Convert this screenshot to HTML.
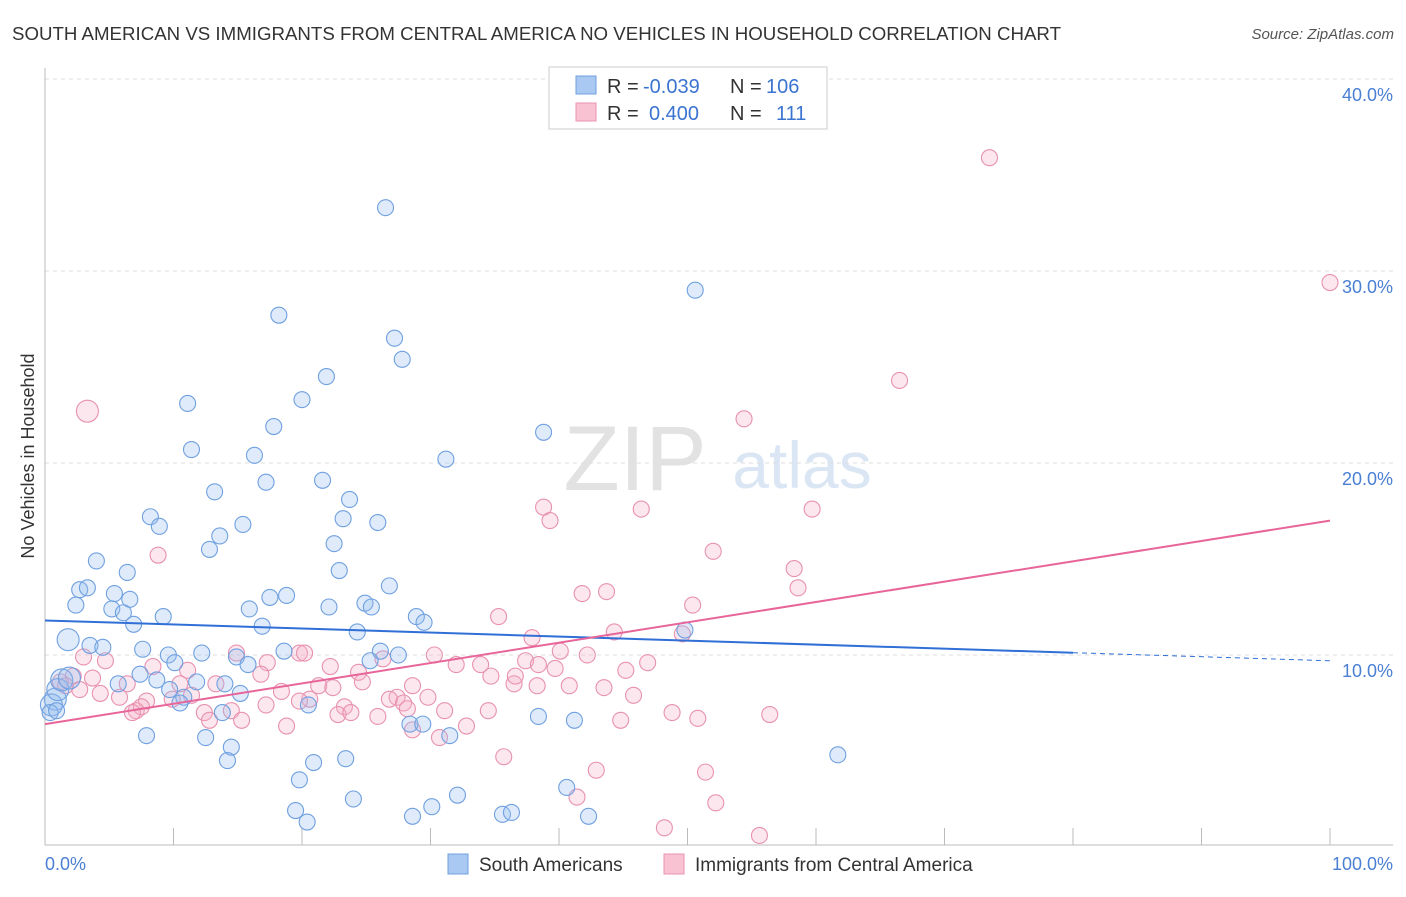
<!DOCTYPE html>
<html><head><meta charset="utf-8">
<style>
body{margin:0;background:#fff;font-family:"Liberation Sans",sans-serif;}
svg text{font-family:"Liberation Sans",sans-serif;}
</style></head>
<body>
<svg id="chart" width="1406" height="892" viewBox="0 0 1406 892" xmlns="http://www.w3.org/2000/svg">
<text x="12" y="40" font-size="18" fill="#333" textLength="1049" lengthAdjust="spacingAndGlyphs">SOUTH AMERICAN VS IMMIGRANTS FROM CENTRAL AMERICA NO VEHICLES IN HOUSEHOLD CORRELATION CHART</text>
<text x="1394" y="39" font-size="15" fill="#555" text-anchor="end" font-style="italic">Source: ZipAtlas.com</text>
<g>
<text x="635" y="490" font-size="92" fill="#e2e2e2" text-anchor="middle" font-family="Liberation Serif">ZIP</text>
<text x="802" y="488" font-size="66" fill="#dbe6f5" text-anchor="middle">atlas</text>
</g>
<g id="grid"></g>
<g id="axes"></g>
<g id="marks"></g>
<g id="trends"></g>
<text transform="translate(34,456) rotate(-90)" font-size="18" fill="#333" text-anchor="middle">No Vehicles in Household</text>
<text x="45" y="870" font-size="18" fill="#4a7fd4">0.0%</text>
<text x="1393" y="870" font-size="18" fill="#4a7fd4" text-anchor="end">100.0%</text>
<g>
<rect x="549" y="67" width="278" height="62" fill="#fff" stroke="#ccc"/>
<rect x="576" y="76" width="20" height="18" fill="#a9c8f2" stroke="#6fa0e0"/>
<rect x="576" y="103" width="20" height="18" fill="#f8c2d3" stroke="#e891b0"/>
<text x="607" y="93" font-size="20" fill="#333">R =</text>
<text x="643" y="93" font-size="20" fill="#3a74d0">-0.039</text>
<text x="730" y="93" font-size="20" fill="#333">N =</text>
<text x="766" y="93" font-size="20" fill="#3a74d0">106</text>
<text x="607" y="120" font-size="20" fill="#333">R =</text>
<text x="649" y="120" font-size="20" fill="#3a74d0">0.400</text>
<text x="730" y="120" font-size="20" fill="#333">N =</text>
<text x="776" y="120" font-size="20" fill="#3a74d0">111</text>
</g>
<g>
<rect x="448" y="854" width="20" height="20" fill="#a9c8f2" stroke="#6fa0e0"/>
<text x="479" y="871" font-size="19" fill="#333">South Americans</text>
<rect x="664" y="854" width="20" height="20" fill="#f8c2d3" stroke="#e891b0"/>
<text x="695" y="871" font-size="19" fill="#333">Immigrants from Central America</text>
</g>
</svg>
<script>
const yTicks=[10,20,30,40];
const yTickLabels=["10.0%","20.0%","30.0%","40.0%"];
const xTicks=[10,20,30,40,50,60,70,80,90,100];
const blueX=[26.5,50.6,18.2,27.2,27.8,21.9,11.1,20.0,17.8,38.8,11.4,16.3,31.2,17.2,21.6,13.2,23.7,8.2,8.9,23.2,25.9,15.4,13.6,22.5,12.8,4.0,6.4,22.9,2.7,3.3,5.4,6.6,26.8,2.4,18.8,17.5,5.2,6.1,9.2,15.9,22.1,24.9,25.4,28.9,29.5,6.9,16.9,1.8,3.5,4.5,24.3,49.8,7.6,9.6,12.2,18.6,14.9,27.5,26.1,25.3,10.1,15.8,7.4,8.7,11.8,14.0,5.7,10.8,15.2,9.7,10.5,13.8,20.5,38.4,41.2,28.4,29.4,31.5,7.9,12.5,14.5,14.2,23.4,20.9,61.7,19.8,40.6,32.1,24.0,30.1,19.5,35.6,36.3,28.6,42.3,20.4,0.8,0.5,1.0,1.3,1.9,0.4,0.9];
const blueY=[33.3,29.0,27.7,26.5,25.4,24.5,23.1,23.3,21.9,21.6,20.7,20.4,20.2,19.0,19.1,18.5,18.1,17.2,16.7,17.1,16.9,16.8,16.2,15.8,15.5,14.9,14.3,14.4,13.4,13.5,13.2,12.9,13.6,12.6,13.1,13.0,12.4,12.2,12.0,12.4,12.5,12.7,12.5,12.0,11.7,11.6,11.5,10.8,10.5,10.4,11.2,11.3,10.3,10.0,10.1,10.2,9.9,10.0,10.2,9.7,9.6,9.5,9.0,8.7,8.6,8.5,8.5,7.8,8.0,8.2,7.5,7.0,7.4,6.8,6.6,6.4,6.4,5.8,5.8,5.7,5.2,4.5,4.6,4.4,4.8,3.5,3.1,2.7,2.5,2.1,1.9,1.7,1.8,1.6,1.6,1.3,7.7,7.4,8.2,8.7,8.8,7.0,7.1];
const pinkX=[73.5,100,66.5,3.3,54.4,38.8,39.3,46.4,59.7,8.8,52.0,58.3,58.6,41.8,43.7,35.3,50.4,44.3,49.6,37.9,14.9,19.8,20.2,26.3,30.3,40.1,42.2,3.0,4.7,8.4,11.1,17.3,22.2,32.0,33.9,37.4,38.4,46.9,45.2,24.4,34.7,36.5,39.7,24.7,36.6,2.2,3.7,6.4,10.5,13.3,16.8,21.3,22.4,28.6,38.3,40.8,43.5,20.6,27.4,29.8,45.8,4.3,5.8,7.9,9.9,11.4,18.4,17.2,23.3,26.8,27.9,28.2,31.1,34.5,7.1,7.5,12.4,19.8,14.5,15.3,22.8,23.8,25.9,28.6,30.7,32.8,44.8,48.8,50.8,56.4,12.8,18.8,6.8,35.7,42.9,51.4,41.4,52.2,48.2,55.6,1.2,1.6,2.7];
const pinkY=[35.9,29.4,24.3,22.7,22.3,17.7,17.0,17.6,17.6,15.2,15.4,14.5,13.5,13.2,13.3,12.0,12.6,11.2,11.1,10.9,10.1,10.1,10.1,9.8,10.0,10.2,10.0,9.9,9.7,9.4,9.2,9.6,9.4,9.5,9.5,9.7,9.5,9.6,9.2,9.1,8.9,8.5,9.3,8.6,8.9,8.9,8.8,8.5,8.5,8.5,9.0,8.4,8.3,8.4,8.4,8.4,8.3,7.7,7.8,7.8,7.9,8.0,7.8,7.6,7.7,7.9,8.1,7.4,7.3,7.7,7.5,7.2,7.1,7.1,7.1,7.3,7.0,7.6,7.1,6.6,6.9,7.0,6.8,6.1,5.7,6.3,6.6,7.0,6.7,6.9,6.6,6.3,7.0,4.7,4.0,3.9,2.6,2.3,1.0,0.6,8.6,8.4,8.2];
const blueTrend=[11.8,9.7];
const pinkTrend=[6.4,17.0];
const bigPinkIdx=[3];
const bigBlueIdx=[47,96,97,98,99,100];

const NS="http://www.w3.org/2000/svg";
const X0=45,X1=1330,Y0=847,PY=19.2;
const xs=v=>X0+(X1-X0)*v/100;
const ys=v=>Y0-v*PY;
function mk(tag,attrs,parent){const e=document.createElementNS(NS,tag);for(const k in attrs)e.setAttribute(k,attrs[k]);parent.appendChild(e);return e;}
const grid=document.getElementById('grid'),axes=document.getElementById('axes'),marks=document.getElementById('marks'),trends=document.getElementById('trends');
yTicks.forEach((t,i)=>{
 const l=mk('line',{x1:X0,x2:1393,y1:ys(t),y2:ys(t),stroke:'#ddd','stroke-dasharray':'4,4'},grid);
 
 
 const tx=mk('text',{x:1393,y:ys(t)+22,'font-size':18,fill:'#4a7fd4','text-anchor':'end'},grid);
 tx.textContent=yTickLabels[i];
 
 
});
const xa=mk('line',{x1:X0,x2:1393,y1:845,y2:845,stroke:'#bbb'},axes);


const ya=mk('line',{x1:X0,x2:X0,y1:68,y2:845,stroke:'#bbb'},axes);


xTicks.forEach(t=>{
 const l=mk('line',{x1:xs(t),x2:xs(t),y1:828,y2:845,stroke:'#bbb'},axes);
 
 
});
pinkX.forEach((v,i)=>{
 const c=mk('circle',{cx:xs(v),cy:ys(pinkY[i]),r:bigPinkIdx.includes(i)?11:8,fill:'rgba(245,175,198,0.3)',stroke:'#e891b0','stroke-width':1.1},marks);
 
 
});
blueX.forEach((v,i)=>{
 const c=mk('circle',{cx:xs(v),cy:ys(blueY[i]),r:bigBlueIdx.includes(i)?11:8,fill:'rgba(150,190,240,0.3)',stroke:'#6fa0e0','stroke-width':1.1},marks);
 
 
});
const bAt=x=>blueTrend[0]+(blueTrend[1]-blueTrend[0])*x/100;
const b1=mk('line',{x1:xs(0),y1:ys(bAt(0)),x2:xs(80),y2:ys(bAt(80)),stroke:'#2f6fd6','stroke-width':2},trends);


const b2=mk('line',{x1:xs(80),y1:ys(bAt(80)),x2:xs(100),y2:ys(bAt(100)),stroke:'#2f6fd6','stroke-width':1,'stroke-dasharray':'5,4'},trends);


const p1=mk('line',{x1:xs(0),y1:ys(pinkTrend[0]),x2:xs(100),y2:ys(pinkTrend[1]),stroke:'#e8659a','stroke-width':2},trends);


</script>
</body></html>
